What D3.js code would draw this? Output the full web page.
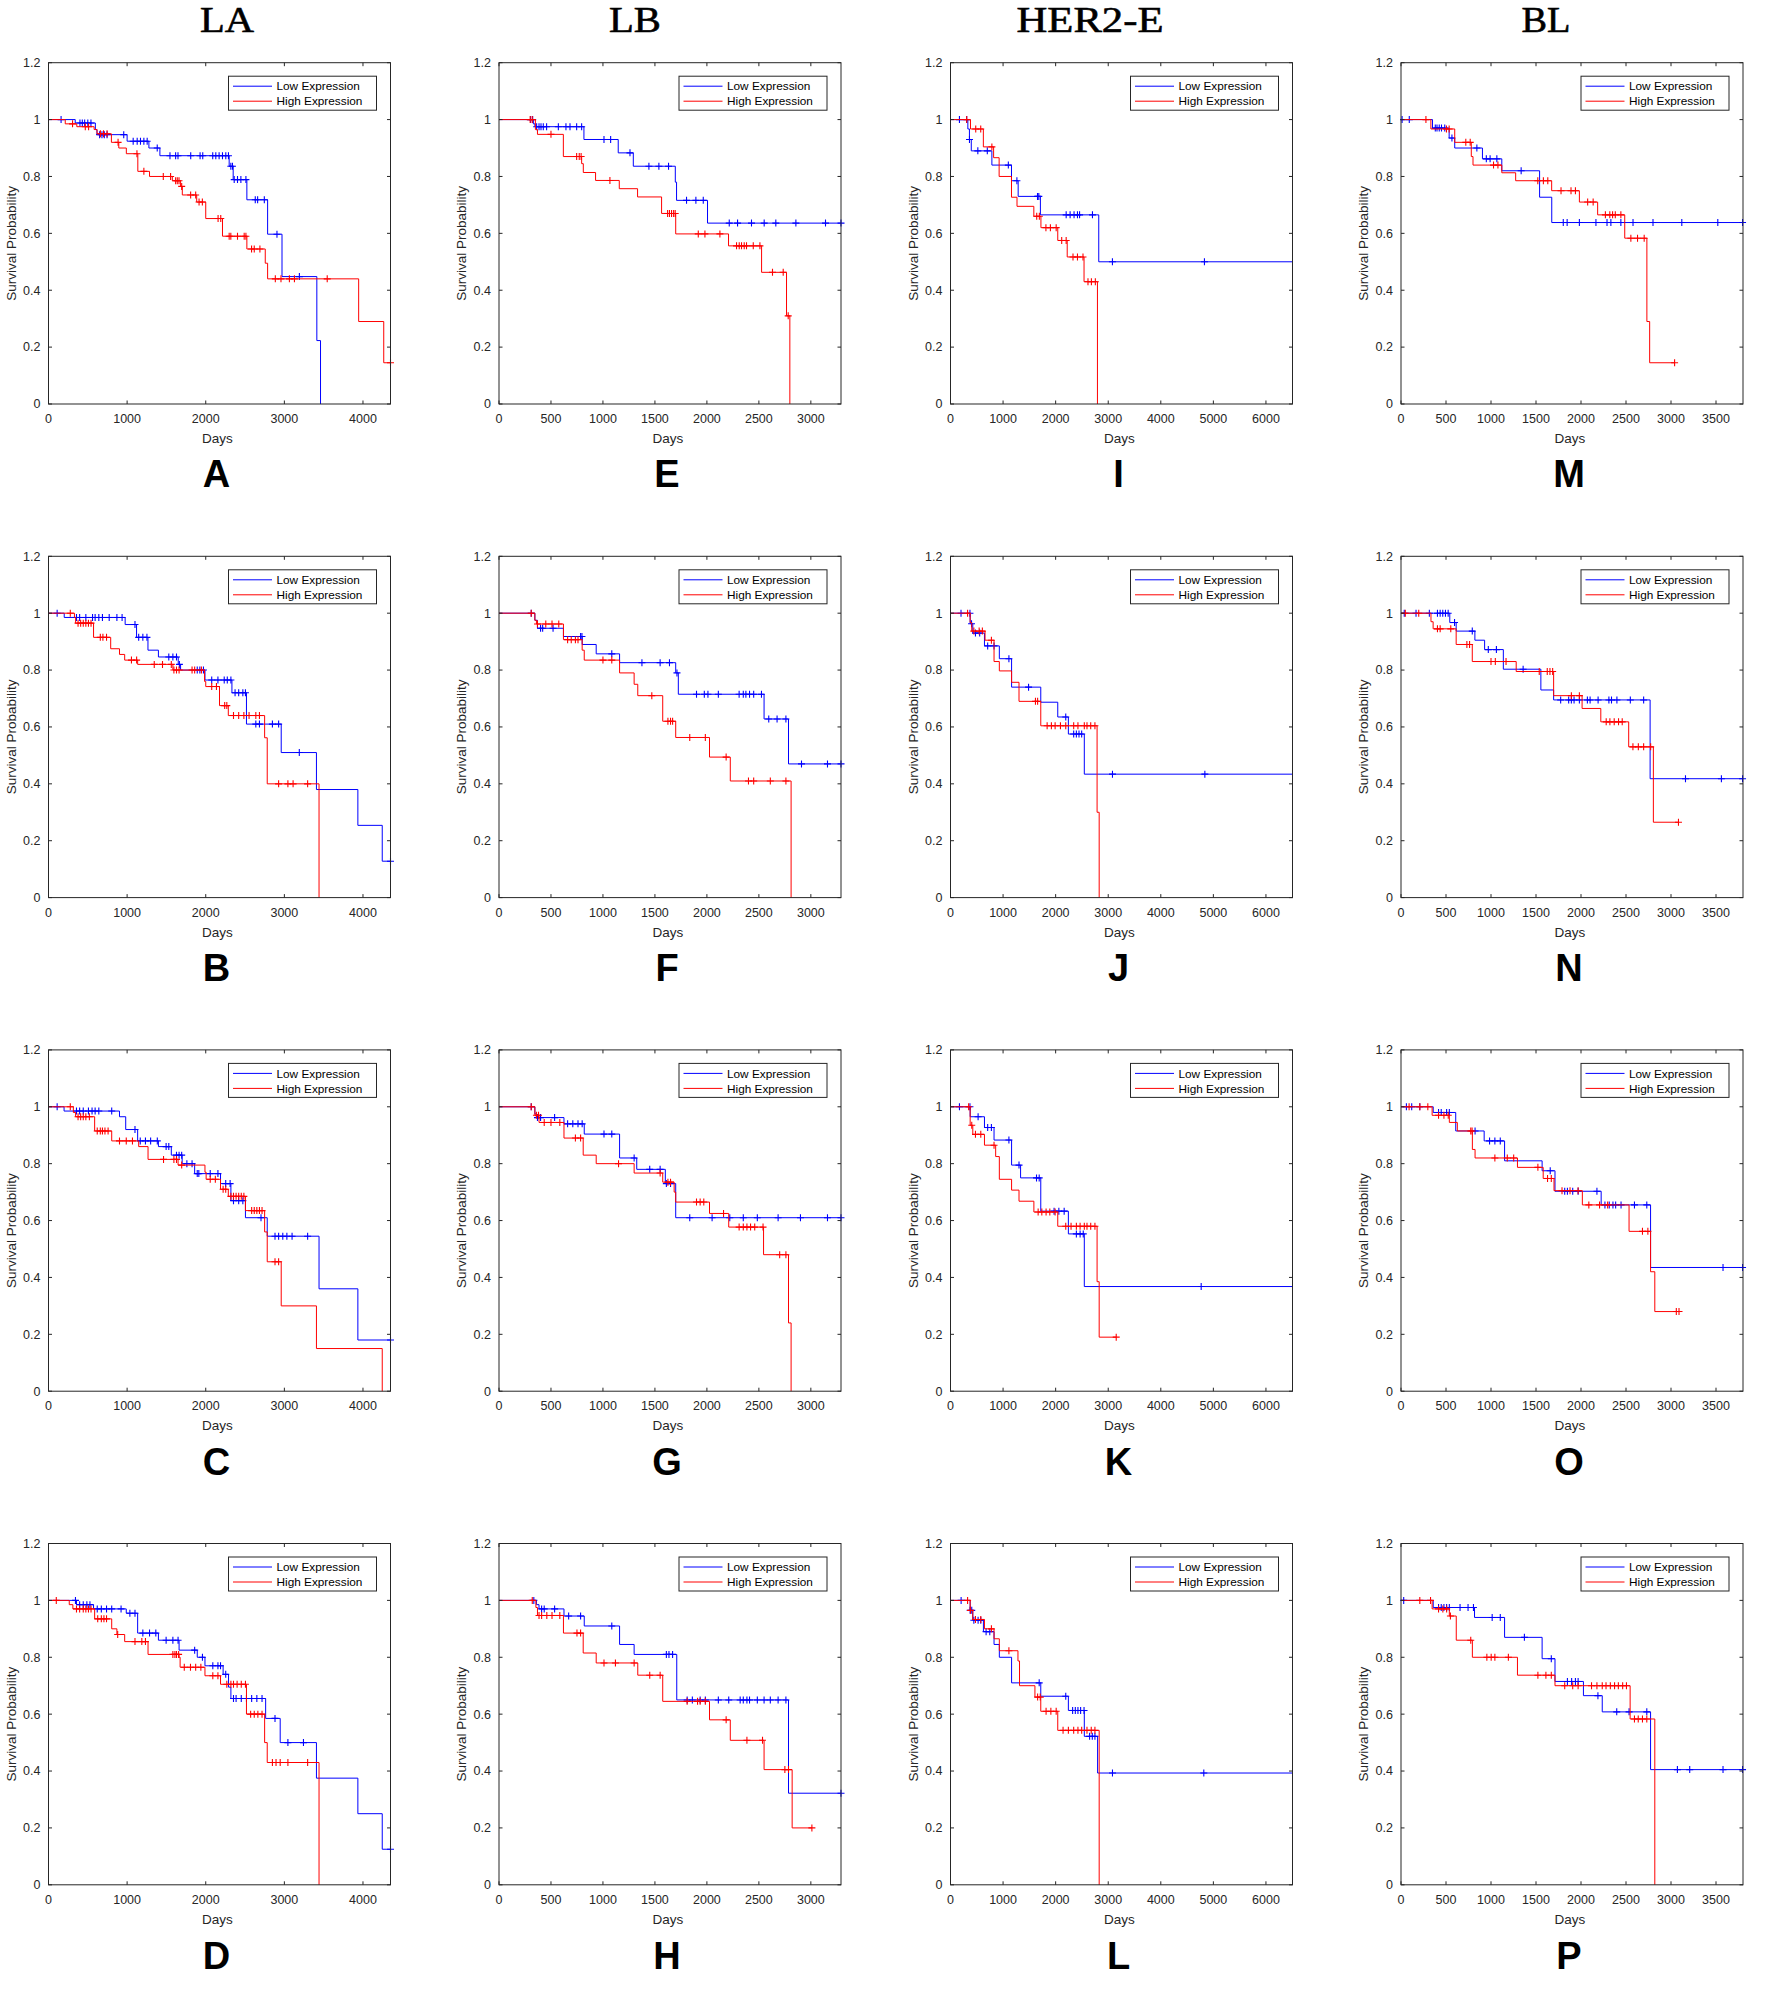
<!DOCTYPE html>
<html>
<head>
<meta charset="utf-8">
<script src="https://cdn.jsdelivr.net/npm/d3@7/dist/d3.min.js"></script>
<style>
  body { margin: 0; background: #fff; }
  text { font-family: "Liberation Sans", Arial, sans-serif; }
</style>
</head>
<body>
<svg id="fig" width="1772" height="2002"></svg>
<script>
// ---- categories / ticks ----
const subtypes = ['LA', 'LB', 'HER2-E', 'BL'];
const panelNames = [['A', 'B', 'C', 'D'], ['E', 'F', 'G', 'H'], ['I', 'J', 'K', 'L'], ['M', 'N', 'O', 'P']];
const dayMax = [4350, 3290, 6505, 3800];
const dayTicks = [
  [0, 1000, 2000, 3000, 4000],
  [0, 500, 1000, 1500, 2000, 2500, 3000],
  [0, 1000, 2000, 3000, 4000, 5000, 6000],
  [0, 500, 1000, 1500, 2000, 2500, 3000, 3500]
];
const probTicks = [0, 0.2, 0.4, 0.6, 0.8, 1, 1.2];
const groupLabels = ['Low Expression', 'High Expression'];

// ---- survival curves: steps are [day, survival from that day], cens are censor days ----
const lowA = [[0,1],[340,0.988],[596,0.965],[617,0.947],[1000,0.924],[1277,0.9],[1417,0.873],[2298,0.836],[2349,0.789],[2523,0.718],[2787,0.597],[2970,0.448],[3413,0.223],[3460,0]];
const lowAcens = [160,400,430,460,500,540,650,680,710,745,957,1077,1128,1170,1213,1255,1383,1545,1617,1647,1809,1928,1962,2089,2128,2170,2213,2255,2289,2319,2340,2362,2404,2447,2511,2630,2660,2745,2906,3191];
const highA = [[0,1],[213,0.985],[360,0.975],[580,0.965],[617,0.95],[800,0.92],[894,0.9],[990,0.88],[1136,0.818],[1285,0.8],[1575,0.785],[1680,0.765],[1702,0.735],[1885,0.71],[2000,0.652],[2213,0.59],[2523,0.545],[2757,0.495],[2787,0.44],[3945,0.29],[4264,0.145]];
const highAcens = [306,468,510,660,700,745,885,1125,1213,1460,1553,1617,1638,1660,1694,1808,1872,1915,1957,2157,2191,2298,2319,2404,2489,2511,2583,2617,2689,2885,2957,3064,3128,3545,4350];

const lowB = [[0,1],[200,0.985],[975,0.96],[1120,0.915],[1265,0.87],[1398,0.846],[1650,0.82],[1680,0.8],[1990,0.765],[2333,0.72],[2518,0.61],[2960,0.51],[3408,0.38],[3935,0.254],[4245,0.128]];
const lowBcens = [110,356,396,475,560,593,640,686,772,870,936,1100,1147,1200,1252,1530,1582,1628,1665,1892,1925,1971,2076,2155,2235,2274,2320,2373,2419,2472,2505,2637,2683,2848,2927,3190,4350];
const highB = [[0,1],[330,0.985],[345,0.965],[573,0.915],[791,0.875],[903,0.855],[969,0.835],[1134,0.82],[1582,0.8],[1985,0.76],[2000,0.742],[2175,0.675],[2287,0.64],[2749,0.562],[2782,0.4],[3441,0]];
const highBcens = [277,376,409,442,475,508,541,659,692,738,1055,1121,1345,1450,1562,1595,1628,1661,1826,1859,1945,2076,2136,2241,2268,2353,2419,2485,2551,2637,2683,2927,3045,3111,3296];

const lowC = [[0,1],[198,0.985],[903,0.965],[982,0.92],[1134,0.88],[1398,0.86],[1562,0.83],[1700,0.8],[1859,0.765],[2188,0.73],[2320,0.67],[2505,0.61],[2782,0.545],[3441,0.36],[3935,0.18]];
const lowCcens = [110,356,396,442,508,554,593,640,804,1100,1167,1233,1299,1384,1496,1530,1628,1661,1694,1760,1826,1892,1912,2057,2155,2254,2310,2353,2419,2472,2703,2881,2927,2980,3032,3098,3296,4350];
const highC = [[0,1],[316,0.98],[345,0.965],[587,0.915],[804,0.88],[1147,0.86],[1266,0.815],[1648,0.795],[1990,0.77],[2005,0.745],[2188,0.71],[2287,0.685],[2505,0.635],[2749,0.56],[2782,0.455],[2960,0.3],[3408,0.15],[4245,0]];
const highCcens = [277,376,409,442,475,520,620,659,686,718,758,903,989,1068,1463,1595,1628,1694,2057,2122,2221,2254,2320,2353,2386,2419,2452,2485,2584,2617,2650,2683,2716,2881,2927];

const lowD = [[0,1],[356,0.985],[573,0.97],[989,0.955],[1134,0.885],[1398,0.86],[1661,0.825],[1892,0.8],[1990,0.77],[2221,0.74],[2290,0.695],[2320,0.655],[2762,0.585],[2947,0.5],[3408,0.375],[3935,0.25],[4245,0.125]];
const lowDcens = [343,396,442,488,527,620,672,738,804,923,1035,1100,1200,1285,1365,1496,1582,1648,1859,1958,2090,2155,2188,2254,2353,2386,2452,2518,2584,2650,2716,2881,3045,3243,4350];
const highD = [[0,1],[264,0.985],[310,0.97],[587,0.935],[804,0.9],[870,0.88],[969,0.855],[1266,0.81],[1661,0.8],[1674,0.765],[1990,0.735],[2188,0.705],[2518,0.6],[2749,0.5],[2782,0.43],[3441,0]];
const highDcens = [99,356,396,442,475,508,541,626,672,705,738,880,1100,1187,1233,1582,1608,1628,1655,1727,1806,1872,1938,2090,2155,2268,2320,2353,2399,2452,2505,2571,2617,2663,2716,2848,2894,2947,3045,3296];

const lowE = [[0,1],[330,0.985],[346,0.975],[817,0.93],[1147,0.883],[1292,0.836],[1696,0.78],[1708,0.716],[2006,0.636]];
const lowEcens = [304,324,362,385,404,426,458,571,644,683,747,795,1010,1074,1260,1442,1538,1631,1804,1894,1965,2215,2295,2429,2551,2663,2856,3141,3290];
const highE = [[0,1],[350,0.965],[370,0.948],[619,0.87],[795,0.845],[811,0.814],[929,0.786],[1157,0.757],[1333,0.728],[1564,0.67],[1700,0.598],[2208,0.556],[2526,0.463],[2766,0.31],[2798,0]];
const highEcens = [300,320,500,747,772,790,1067,1622,1640,1660,1680,1695,1917,1981,2125,2285,2311,2333,2359,2381,2446,2510,2631,2734,2782];

const lowF = [[0,1],[345,0.975],[370,0.947],[620,0.918],[800,0.89],[935,0.857],[1160,0.826],[1700,0.79],[1725,0.715],[2550,0.628],[2785,0.47]];
const lowFcens = [310,400,420,520,785,798,1085,1375,1550,1640,1712,1900,1975,2010,2110,2310,2350,2375,2410,2450,2525,2595,2675,2760,2910,3160,3290];
const highF = [[0,1],[345,0.975],[360,0.962],[620,0.907],[800,0.87],[820,0.835],[1160,0.79],[1300,0.75],[1335,0.71],[1575,0.62],[1700,0.563],[2025,0.494],[2225,0.41],[2810,0]];
const highFcens = [310,370,450,510,575,660,695,735,760,1000,1085,1470,1625,1650,1670,1835,1985,2185,2400,2450,2610,2760];

const lowG = [[0,1],[345,0.975],[360,0.962],[625,0.94],[820,0.904],[1160,0.82],[1325,0.78],[1600,0.73],[1700,0.61]];
const lowGcens = [310,370,400,535,660,710,760,800,1010,1085,1300,1450,1550,1610,1650,1835,2050,2220,2350,2485,2685,2900,3160,3290];
const highG = [[0,1],[345,0.97],[385,0.945],[625,0.89],[810,0.83],[935,0.8],[1300,0.767],[1575,0.735],[1685,0.7],[1700,0.665],[2025,0.625],[2210,0.577],[2545,0.48],[2785,0.24],[2810,0]];
const highGcens = [310,360,380,435,500,585,735,785,1150,1550,1625,1650,1900,1935,1970,2160,2310,2350,2385,2420,2460,2540,2700,2760];

const lowH = [[0,1],[360,0.985],[385,0.97],[625,0.945],[820,0.91],[1160,0.845],[1300,0.81],[1710,0.65],[2785,0.322]];
const lowHcens = [335,410,435,535,670,785,1085,1610,1635,1670,1810,1860,1935,1985,2110,2210,2320,2350,2385,2410,2485,2550,2610,2685,2760,3290];
const highH = [[0,1],[355,0.975],[370,0.947],[620,0.885],[810,0.815],[935,0.78],[1335,0.737],[1575,0.645],[2025,0.58],[2225,0.508],[2550,0.405],[2820,0.2]];
const highHcens = [320,385,410,460,510,585,750,785,1010,1120,1300,1450,1550,1810,1910,1935,1985,2185,2385,2535,2750,2785,3010];

const lowI = [[0,1],[330,0.967],[360,0.93],[395,0.89],[787,0.84],[1160,0.785],[1287,0.73],[1710,0.665],[2820,0.5],[6505,0]];
const lowIcens = [170,308,361,520,700,1100,1263,1655,1680,2200,2275,2350,2415,2455,2700,3080,4830];
const highI = [[0,1],[380,0.967],[625,0.904],[820,0.866],[925,0.8],[1160,0.727],[1265,0.695],[1585,0.66],[1720,0.62],[2040,0.575],[2220,0.517],[2540,0.43],[2795,0]];
const highIcens = [308,480,575,787,1640,1690,1815,1900,2010,2115,2200,2330,2415,2520,2615,2680,2755];

const lowJ = [[0,1],[374,0.963],[424,0.93],[646,0.885],[929,0.84],[1162,0.74],[1717,0.687],[2040,0.635],[2242,0.575],[2545,0.434],[6505,0]];
const lowJcens = [200,370,400,475,555,707,828,1111,1485,2192,2343,2394,2444,2495,3081,4838];
const highJ = [[0,1],[374,0.967],[404,0.937],[657,0.905],[828,0.83],[929,0.797],[1162,0.757],[1303,0.69],[1717,0.604],[2788,0.3],[2828,0]];
const highJcens = [325,444,545,606,778,1616,1657,1838,1919,1990,2091,2192,2343,2424,2545,2596,2667,2747];

const lowK = [[0,1],[374,0.965],[646,0.927],[828,0.883],[1162,0.795],[1333,0.75],[1717,0.633],[2242,0.553],[2545,0.368],[6505,0]];
const lowKcens = [170,370,525,707,778,1111,1303,1636,1687,1970,2061,2162,2394,2465,2525,4768];
const highK = [[0,1],[374,0.935],[424,0.903],[646,0.865],[859,0.825],[929,0.745],[1162,0.707],[1303,0.668],[1586,0.63],[2040,0.58],[2788,0.385],[2828,0.19]];
const highKcens = [345,404,475,576,828,1667,1737,1818,1889,1990,2192,2293,2394,2465,2545,2596,2667,2747,3152];

const lowL = [[0,1],[374,0.965],[424,0.93],[626,0.89],[828,0.845],[929,0.8],[1162,0.71],[1717,0.663],[2242,0.613],[2545,0.522],[2798,0.393],[6505,0]];
const lowLcens = [202,374,404,444,525,576,677,747,1687,2192,2323,2374,2424,2475,2540,2646,2697,2747,3081,4818];
const highL = [[0,1],[374,0.965],[424,0.933],[646,0.9],[828,0.865],[929,0.823],[1283,0.787],[1313,0.7],[1606,0.66],[1717,0.61],[2040,0.543],[2828,0]];
const highLcens = [325,380,475,576,778,1111,1657,1707,1818,1909,2010,2141,2242,2343,2424,2495,2596,2677,2747];

const lowM = [[0,1],[350,0.97],[535,0.935],[597,0.9],[905,0.862],[1120,0.82],[1540,0.727],[1675,0.638]];
const lowMcens = [12,92,381,400,425,450,486,566,843,948,990,1065,1335,1803,1846,1982,2166,2289,2332,2443,2578,2800,3120,3520,3795];
const highM = [[0,1],[332,0.967],[597,0.92],[781,0.87],[800,0.84],[1120,0.813],[1274,0.785],[1674,0.75],[1982,0.71],[2185,0.665],[2486,0.583],[2732,0.29],[2763,0.145]];
const highMcens = [277,505,535,720,769,1028,1077,1520,1582,1631,1778,1889,1938,2074,2135,2271,2320,2351,2381,2443,2554,2628,2702,3040];

const lowN = [[0,1],[542,0.967],[613,0.937],[821,0.905],[929,0.872],[1137,0.803],[1554,0.73],[1696,0.695],[2768,0.418]];
const lowNcens = [36,167,315,405,435,464,494,524,595,792,970,1060,1357,1774,1863,1893,1923,1982,2071,2101,2190,2310,2339,2399,2548,2696,3161,3560,3795];
const highN = [[0,1],[333,0.97],[357,0.945],[613,0.89],[792,0.83],[1280,0.795],[1696,0.71],[2012,0.665],[2220,0.618],[2530,0.53],[2804,0.265]];
const highNcens = [48,197,405,435,553,732,762,1000,1048,1167,1536,1625,1655,1685,1893,1982,2280,2321,2369,2417,2458,2577,2637,2696,2774,3083];

const lowO = [[0,1],[358,0.98],[608,0.915],[924,0.88],[1151,0.81],[1568,0.775],[1711,0.703],[2224,0.655],[2773,0.435]];
const lowOcens = [60,119,209,417,447,507,537,823,984,1043,1103,1658,1819,1849,1908,1968,2177,2266,2314,2355,2385,2445,2594,2731,3578,3795];
const highO = [[0,1],[346,0.97],[537,0.945],[626,0.915],[793,0.85],[823,0.82],[1294,0.787],[1580,0.748],[1700,0.705],[2015,0.655],[2534,0.562],[2773,0.42],[2820,0.28]];
const highOcens = [90,209,298,417,477,525,775,790,1043,1181,1252,1521,1628,1670,1789,1878,1968,2087,2206,2296,2683,2743,3059,3089];

const lowP = [[0,1],[358,0.975],[817,0.94],[1151,0.87],[1568,0.795],[1711,0.715],[2027,0.665],[2236,0.608],[2773,0.405]];
const lowPcens = [30,417,447,477,507,537,656,745,805,1013,1103,1371,1670,1849,1896,1938,1968,2188,2397,2534,2731,3071,3208,3578,3795];
const highP = [[0,1],[346,0.97],[537,0.945],[614,0.86],[793,0.8],[1294,0.737],[1711,0.7],[2546,0.583],[2820,0]];
const highPcens = [209,328,417,465,507,549,775,954,1002,1043,1193,1521,1610,1670,1819,1908,1968,2117,2177,2236,2278,2326,2373,2415,2463,2505,2594,2636,2683,2731];

const curves = {
  A: [[lowA, lowAcens], [highA, highAcens]], B: [[lowB, lowBcens], [highB, highBcens]],
  C: [[lowC, lowCcens], [highC, highCcens]], D: [[lowD, lowDcens], [highD, highDcens]],
  E: [[lowE, lowEcens], [highE, highEcens]], F: [[lowF, lowFcens], [highF, highFcens]],
  G: [[lowG, lowGcens], [highG, highGcens]], H: [[lowH, lowHcens], [highH, highHcens]],
  I: [[lowI, lowIcens], [highI, highIcens]], J: [[lowJ, lowJcens], [highJ, highJcens]],
  K: [[lowK, lowKcens], [highK, highKcens]], L: [[lowL, lowLcens], [highL, highLcens]],
  M: [[lowM, lowMcens], [highM, highMcens]], N: [[lowN, lowNcens], [highN, highNcens]],
  O: [[lowO, lowOcens], [highO, highOcens]], P: [[lowP, lowPcens], [highP, highPcens]]
};

// ---- layout ----
const colors = ['#0000ff', '#ff0000'];
const axisColor = '#262626';
const plotLeft = [48.5, 499, 950.5, 1401];
const plotW = 342, plotH = 341.3;
const rowTop = r => 62.7 + r * 493.6;
const titleX = [227, 635, 1090, 1546];
const titleW = [54, 52, 147, 49];
const tickLen = 3.5;

const svg = d3.select('#fig');

subtypes.forEach((name, c) => {
  svg.append('text')
    .attr('x', titleX[c]).attr('y', 32)
    .attr('text-anchor', 'middle')
    .attr('textLength', titleW[c])
    .attr('lengthAdjust', 'spacingAndGlyphs')
    .style('font-family', '"Liberation Serif", "Times New Roman", serif')
    .style('font-size', '36px')
    .attr('fill', '#000')
    .attr('stroke', '#000')
    .attr('stroke-width', 0.6)
    .text(name);
});

// value of a step function at day t
function survAt(steps, t) {
  let s = steps[0][1];
  for (const [d, v] of steps) {
    if (d <= t) s = v; else break;
  }
  return s;
}

function drawPanel(c, r) {
  const letter = panelNames[c][r];
  const x0 = plotLeft[c], y0 = rowTop(r);
  const g = svg.append('g').attr('transform', `translate(${x0},${y0})`);

  const x = d3.scaleLinear().domain([0, dayMax[c]]).range([0, plotW]);
  const y = d3.scaleLinear().domain([0, 1.2]).range([plotH, 0]);

  // curves
  const clip = 'clip' + letter;
  g.append('clipPath').attr('id', clip)
    .append('rect').attr('x', -1).attr('y', -1).attr('width', plotW + 6).attr('height', plotH + 2);

  const line = d3.line().x(d => x(d[0])).y(d => y(d[1])).curve(d3.curveStepAfter);

  curves[letter].forEach(([steps, cens], k) => {
    const end = Math.max(steps[steps.length - 1][0], d3.max(cens));
    const pts = steps.concat([[end, steps[steps.length - 1][1]]]);
    const cg = g.append('g').attr('clip-path', `url(#${clip})`);
    cg.append('path')
      .attr('d', line(pts))
      .attr('fill', 'none')
      .attr('stroke', colors[k])
      .attr('stroke-width', 1);
    cg.selectAll('path.cens')
      .data(cens)
      .enter().append('path')
      .attr('class', 'cens')
      .attr('d', t => {
        const px = x(t), py = y(survAt(steps, t));
        return `M${px - 3.5},${py}H${px + 3.5}M${px},${py - 3.5}V${py + 3.5}`;
      })
      .attr('stroke', colors[k])
      .attr('stroke-width', 1.1);
  });

  // box with inward ticks on all sides
  g.append('rect')
    .attr('width', plotW).attr('height', plotH)
    .attr('fill', 'none').attr('stroke', axisColor).attr('stroke-width', 1);

  const ticks = g.append('g').attr('stroke', axisColor).attr('stroke-width', 1);
  dayTicks[c].forEach(t => {
    const px = x(t);
    ticks.append('line').attr('x1', px).attr('x2', px).attr('y1', plotH).attr('y2', plotH - tickLen);
    ticks.append('line').attr('x1', px).attr('x2', px).attr('y1', 0).attr('y2', tickLen);
  });
  probTicks.forEach(t => {
    const py = y(t);
    ticks.append('line').attr('x1', 0).attr('x2', tickLen).attr('y1', py).attr('y2', py);
    ticks.append('line').attr('x1', plotW).attr('x2', plotW - tickLen).attr('y1', py).attr('y2', py);
  });

  g.append('g').selectAll('text')
    .data(dayTicks[c])
    .enter().append('text')
    .attr('x', d => x(d)).attr('y', plotH + 19)
    .attr('text-anchor', 'middle')
    .style('font-size', '12.5px')
    .attr('fill', axisColor)
    .text(d => d);

  g.append('g').selectAll('text')
    .data(probTicks)
    .enter().append('text')
    .attr('x', -8).attr('y', d => y(d)).attr('dy', '0.35em')
    .attr('text-anchor', 'end')
    .style('font-size', '12.5px')
    .attr('fill', axisColor)
    .text(d => d3.format('~g')(d));

  g.append('text')
    .attr('x', plotW / 2 - 2).attr('y', plotH + 39)
    .attr('text-anchor', 'middle')
    .style('font-size', '13.5px')
    .attr('fill', axisColor)
    .text('Days');

  g.append('text')
    .attr('transform', `translate(-33,${plotH / 2 + 10})rotate(-90)`)
    .attr('text-anchor', 'middle')
    .style('font-size', '13.5px')
    .attr('fill', axisColor)
    .text('Survival Probability');

  // legend
  const lg = g.append('g').attr('transform', `translate(${plotW - 162},13.5)`);
  lg.append('rect')
    .attr('width', 148).attr('height', 34)
    .attr('fill', '#fff').attr('stroke', axisColor).attr('stroke-width', 1);
  groupLabels.forEach((lab, k) => {
    const ly = 10 + k * 15;
    lg.append('line')
      .attr('x1', 4.5).attr('x2', 43.5).attr('y1', ly).attr('y2', ly)
      .attr('stroke', colors[k]).attr('stroke-width', 1);
    lg.append('text')
      .attr('x', 48).attr('y', ly).attr('dy', '0.35em')
      .style('font-size', '11.8px')
      .attr('fill', '#000')
      .text(lab);
  });

  // panel letter
  svg.append('text')
    .attr('x', x0 + plotW / 2 - 3).attr('y', 487 + r * 494)
    .attr('text-anchor', 'middle')
    .style('font-size', '38px')
    .style('font-weight', 'bold')
    .attr('fill', '#000')
    .text(letter);
}

for (let c = 0; c < 4; c++) {
  for (let r = 0; r < 4; r++) drawPanel(c, r);
}
</script>
</body>
</html>
